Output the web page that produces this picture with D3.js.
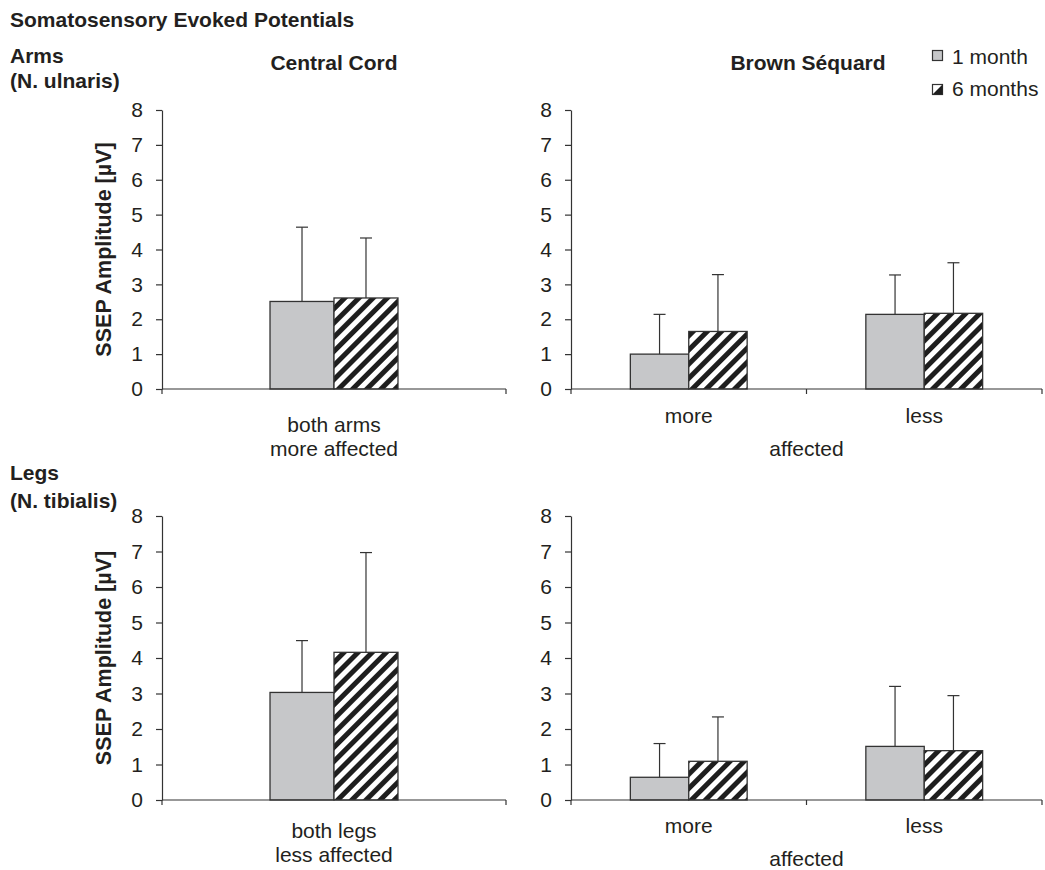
<!DOCTYPE html>
<html>
<head>
<meta charset="utf-8">
<script src="https://cdn.jsdelivr.net/npm/d3@7"></script>
<style>
  body { margin: 0; background: #fff; }
  text { font-family: "Liberation Sans", Arial, sans-serif; fill: #231f20; }
</style>
</head>
<body>
<div id="viz"></div>
<script>
// series / categories
var timepoints = ["1 month", "6 months"];
var yTicks = [0, 1, 2, 3, 4, 5, 6, 7, 8];

// arms (N. ulnaris), central cord
var armsCCCats = ["both arms\nmore affected"];
var armsCCMean1 = [2.51], armsCCSd1 = [2.13];
var armsCCMean6 = [2.61], armsCCSd6 = [1.72];

// arms, brown sequard
var bsCats = ["more", "less"];
var armsBSMean1 = [1.00, 2.14], armsBSSd1 = [1.14, 1.13];
var armsBSMean6 = [1.65, 2.17], armsBSSd6 = [1.63, 1.45];

// legs (N. tibialis), central cord
var legsCCCats = ["both legs\nless affected"];
var legsCCMean1 = [3.03], legsCCSd1 = [1.46];
var legsCCMean6 = [4.16], legsCCSd6 = [2.81];

// legs, brown sequard
var legsBSMean1 = [0.64, 1.51], legsBSSd1 = [0.95, 1.69];
var legsBSMean6 = [1.09, 1.39], legsBSSd6 = [1.25, 1.55];

var W = 1045, H = 870;
var GRAY = "#c6c7c9", INK = "#333";

var svg = d3.select("#viz").append("svg")
    .attr("width", W).attr("height", H);

var defs = svg.append("defs");
var pat = defs.append("pattern")
    .attr("id", "hatch")
    .attr("patternUnits", "userSpaceOnUse")
    .attr("width", 10).attr("height", 10)
    .attr("patternTransform", "rotate(45)");
pat.append("rect").attr("width", 10).attr("height", 10).attr("fill", "#fff");
pat.append("rect").attr("x", 2).attr("width", 5).attr("height", 10).attr("fill", "#1e1e1e");

function rtext(g, x, y, str, anchor) {
    return g.append("text")
        .attr("x", x).attr("y", y)
        .attr("text-anchor", anchor || "middle")
        .style("font-size", "21px")
        .text(str);
}
function btext(x, y, str, anchor) {
    return svg.append("text")
        .attr("x", x).attr("y", y)
        .attr("text-anchor", anchor || "start")
        .style("font-size", "21px").style("font-weight", "bold")
        .text(str);
}

var panels = [
    {cats: armsCCCats, m1: armsCCMean1, s1: armsCCSd1, m6: armsCCMean6, s6: armsCCSd6,
     x0: 162, x1: 506, yTop: 110, yBot: 389, frac: 0.186, ylab: true, lab1: 43, lab2: 67},
    {cats: bsCats, m1: armsBSMean1, s1: armsBSSd1, m6: armsBSMean6, s6: armsBSSd6,
     x0: 571, x1: 1042, yTop: 110, yBot: 389, frac: 0.248, ylab: false, lab1: 34, lab2: 67},
    {cats: legsCCCats, m1: legsCCMean1, s1: legsCCSd1, m6: legsCCMean6, s6: legsCCSd6,
     x0: 162, x1: 506, yTop: 516, yBot: 800, frac: 0.186, ylab: true, lab1: 38, lab2: 62},
    {cats: bsCats, m1: legsBSMean1, s1: legsBSSd1, m6: legsBSMean6, s6: legsBSSd6,
     x0: 571, x1: 1042, yTop: 516, yBot: 800, frac: 0.248, ylab: false, lab1: 33, lab2: 66}
];

panels.forEach(function (p) {
    var g = svg.append("g");
    var y = d3.scaleLinear().domain([0, 8]).range([p.yBot, p.yTop]);
    var x = d3.scaleBand().domain(p.cats).range([p.x0, p.x1]).padding(0);
    var po = (1 / p.frac - 2) / 2;
    var xi = d3.scaleBand().domain(timepoints).range([0, x.bandwidth()])
        .paddingInner(0).paddingOuter(po);

    var rows = [];
    p.cats.forEach(function (c, i) {
        rows.push({cat: c, t: timepoints[0], v: p.m1[i], sd: p.s1[i]});
        rows.push({cat: c, t: timepoints[1], v: p.m6[i], sd: p.s6[i]});
    });

    // error whiskers (upper only)
    var eb = g.selectAll(".err").data(rows).enter().append("g");
    eb.append("line")
        .attr("x1", function (d) { return x(d.cat) + xi(d.t) + xi.bandwidth() / 2; })
        .attr("x2", function (d) { return x(d.cat) + xi(d.t) + xi.bandwidth() / 2; })
        .attr("y1", function (d) { return y(d.v); })
        .attr("y2", function (d) { return y(d.v + d.sd); })
        .attr("stroke", INK).attr("stroke-width", 1.2);
    eb.append("line")
        .attr("x1", function (d) { return x(d.cat) + xi(d.t) + xi.bandwidth() / 2 - 6; })
        .attr("x2", function (d) { return x(d.cat) + xi(d.t) + xi.bandwidth() / 2 + 6; })
        .attr("y1", function (d) { return y(d.v + d.sd); })
        .attr("y2", function (d) { return y(d.v + d.sd); })
        .attr("stroke", INK).attr("stroke-width", 1.2);

    g.selectAll(".bar").data(rows).enter().append("rect")
        .attr("x", function (d) { return x(d.cat) + xi(d.t); })
        .attr("width", xi.bandwidth())
        .attr("y", function (d) { return y(d.v); })
        .attr("height", function (d) { return y(0) - y(d.v); })
        .attr("fill", function (d) { return d.t == timepoints[0] ? GRAY : "url(#hatch)"; })
        .attr("stroke", INK).attr("stroke-width", 1.3);

    // y axis
    var ya = g.append("g")
        .attr("transform", "translate(" + p.x0 + ",0)")
        .call(d3.axisLeft(y).tickValues(yTicks).tickSize(6).tickPadding(13).tickSizeOuter(0));
    ya.select(".domain").attr("stroke", INK).attr("stroke-width", 1.2);
    ya.selectAll("line").attr("stroke", INK).attr("stroke-width", 1.2);
    ya.selectAll("text")
        .style("font-size", "21px")
        .style("font-family", "'Liberation Sans', Arial, sans-serif")
        .attr("fill", "#231f20");

    // x axis: line with boundary ticks
    var bounds = p.cats.map(function (c) { return x(c); }).concat([p.x1]);
    g.append("line").attr("x1", p.x0).attr("x2", p.x1)
        .attr("y1", p.yBot).attr("y2", p.yBot)
        .attr("stroke", INK).attr("stroke-width", 1.2);
    g.selectAll(".bt").data(bounds).enter().append("line")
        .attr("x1", function (d) { return d; }).attr("x2", function (d) { return d; })
        .attr("y1", p.yBot).attr("y2", p.yBot + 5)
        .attr("stroke", INK).attr("stroke-width", 1.2);

    // category labels
    p.cats.forEach(function (c) {
        var lines = c.split("\n");
        var cx = x(c) + x.bandwidth() / 2;
        rtext(g, cx, p.yBot + p.lab1, lines[0]);
        if (lines[1]) rtext(g, cx, p.yBot + p.lab2, lines[1]);
    });
    if (p.cats.length > 1) {
        rtext(g, (p.x0 + p.x1) / 2, p.yBot + p.lab2, "affected");
    }

    if (p.ylab) {
        g.append("text")
            .attr("transform", "translate(111," + (p.yTop + p.yBot) / 2 + ") rotate(-90)")
            .attr("text-anchor", "middle")
            .style("font-size", "21.5px").style("font-weight", "bold")
            .text("SSEP Amplitude [\u00b5V]");
    }
});

// headings
btext(10, 27, "Somatosensory Evoked Potentials");
btext(10, 63, "Arms");
btext(10, 88, "(N. ulnaris)");
btext(10, 480, "Legs");
btext(10, 508, "(N. tibialis)");
btext(334, 70, "Central Cord", "middle");
btext(808, 70, "Brown S\u00e9quard", "middle");

// legend
var lg = svg.append("g");
lg.append("rect").attr("x", 932.5).attr("y", 50.5).attr("width", 10).attr("height", 10)
    .attr("fill", GRAY).attr("stroke", INK).attr("stroke-width", 1.2);
lg.append("rect").attr("x", 932.5).attr("y", 84.5).attr("width", 10).attr("height", 10)
    .attr("fill", "#fff").attr("stroke", INK).attr("stroke-width", 1.2);
lg.append("path").attr("d", "M942.5,84.5 L942.5,94.5 L932.5,94.5 Z").attr("fill", "#1e1e1e");
rtext(lg, 952, 64, timepoints[0], "start");
rtext(lg, 952, 96, timepoints[1], "start");
</script>
</body>
</html>
